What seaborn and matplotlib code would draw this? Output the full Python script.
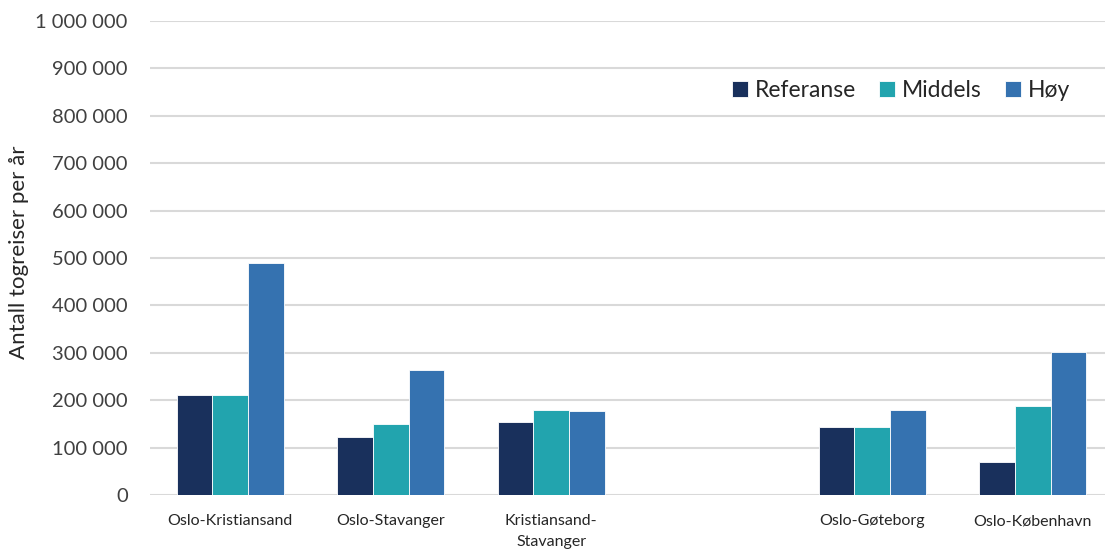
import matplotlib
matplotlib.use("Agg")
import matplotlib.pyplot as plt
import pandas as pd
import seaborn as sns
from matplotlib.ticker import FuncFormatter

# --------------------------------------------------------------------------- #
# Data
# --------------------------------------------------------------------------- #
routes = ["Oslo-Kristiansand", "Oslo-Stavanger", "Kristiansand-\nStavanger",
          " ", "Oslo-Gøteborg", "Oslo-København"]
scenarios = ["Referanse", "Middels", "Høy"]

referanse = [210000, 123000, 153000, None, 143000, 70000]
middels = [210000, 149000, 180000, None, 144000, 187000]
hoy = [490000, 263000, 177000, None, 179000, 302000]

colors = ["#19305c", "#22a4ae", "#3572b0"]

rows = []
for i, r in enumerate(routes):
    for s, vals in zip(scenarios, [referanse, middels, hoy]):
        if vals[i] is not None:
            rows.append({"route": r, "scenario": s, "value": vals[i]})
df = pd.DataFrame(rows)

# --------------------------------------------------------------------------- #
# Plot
# --------------------------------------------------------------------------- #
sns.set_style("white")
plt.rcParams["font.family"] = ["Lato", "DejaVu Sans"]

fig = plt.figure(figsize=(11.05, 5.51), dpi=100)
ax = fig.add_axes([150 / 1105, 56 / 551, 955 / 1105, 474 / 551])

sns.barplot(data=df, x="route", y="value", hue="scenario", order=routes,
            hue_order=scenarios, palette=colors, width=0.667, gap=0,
            edgecolor="white", linewidth=0.6, saturation=1, ax=ax)

ax.set_ylim(0, 1000000)
ax.set_xlim(-0.5, 5.45)
ax.set_yticks(range(0, 1000001, 100000))
ax.yaxis.set_major_formatter(FuncFormatter(lambda v, _: f"{int(v):,}".replace(",", " ")))
ax.grid(axis="y", color="#d9d9d9", linewidth=1.5)
ax.set_axisbelow(True)
for sp in ax.spines.values():
    sp.set_visible(False)

ax.tick_params(axis="y", length=0, pad=16, labelsize=14.5, labelcolor="#404040")
ax.tick_params(axis="x", length=0, pad=14, labelsize=11.5, labelcolor="#262626")
for lbl in ax.get_xticklabels():
    lbl.set_linespacing(1.6)

ax.set_xlabel("")
ax.set_ylabel("Antall togreiser per år", fontsize=16, color="#262626")
ax.yaxis.set_label_coords(-0.127, 0.513)

handles, labels = ax.get_legend_handles_labels()
ax.legend(handles, labels, loc="center right", bbox_to_anchor=(0.985, 0.853),
          ncol=3, frameon=False, fontsize=16.5, handlelength=0.7,
          handleheight=0.7, handletextpad=0.3, columnspacing=1.0,
          labelcolor="#262626")

fig.savefig("out.png", dpi=100)
plt.close(fig)
